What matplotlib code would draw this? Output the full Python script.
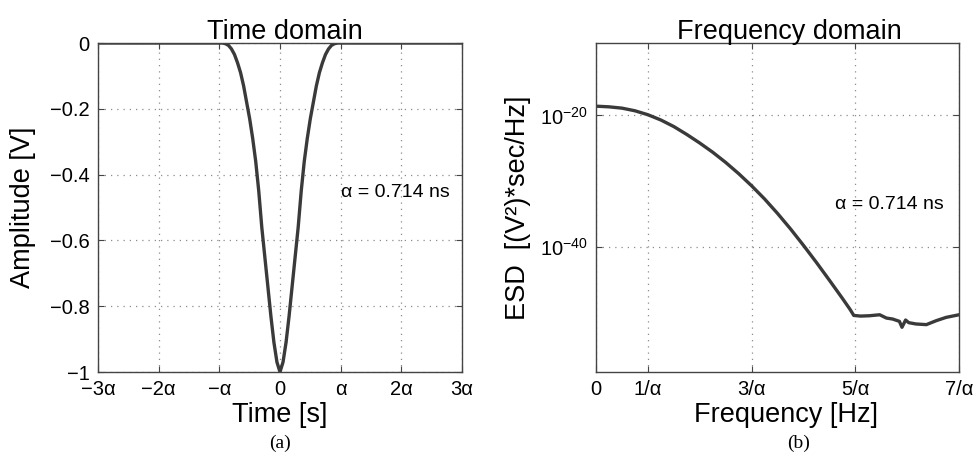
import matplotlib
matplotlib.use('Agg')
import matplotlib.pyplot as plt
import numpy as np

plt.rcParams['font.family'] = ['Liberation Sans', 'DejaVu Sans']
plt.rcParams['mathtext.fontset'] = 'custom'
plt.rcParams['mathtext.rm'] = 'Liberation Sans'
plt.rcParams['mathtext.it'] = 'Liberation Sans:italic'

## time domain pulse, time in units of alpha
t_alpha = [-3.0, -0.95, -0.9, -0.85, -0.8, -0.75, -0.7, -0.65, -0.6, -0.55, -0.5,
           -0.45, -0.4, -0.35, -0.3, -0.25, -0.2, -0.15, -0.1, -0.05, 0.0,
           0.05, 0.1, 0.15, 0.2, 0.25, 0.3, 0.35, 0.4, 0.45, 0.5,
           0.55, 0.6, 0.65, 0.7, 0.75, 0.8, 0.85, 0.9, 0.95, 3.0]
amp = [0.0, 0.0, -0.002, -0.007, -0.018, -0.035, -0.06, -0.09, -0.13, -0.18, -0.23,
       -0.29, -0.36, -0.45, -0.56, -0.65, -0.74, -0.83, -0.91, -0.97, -1.0,
       -0.97, -0.91, -0.83, -0.74, -0.65, -0.56, -0.45, -0.36, -0.29, -0.23,
       -0.18, -0.13, -0.09, -0.06, -0.035, -0.018, -0.007, -0.002, 0.0, 0.0]

## energy spectral density, frequency in units of 1/alpha, log10 of ESD
f_alpha = [0, 0.25, 0.5, 0.75, 1.0, 1.25, 1.5, 1.75, 2.0, 2.25, 2.5, 2.75, 3.0,
           3.25, 3.5, 3.75, 4.0, 4.25, 4.5, 4.75, 4.9, 4.97, 5.1, 5.27, 5.47,
           5.6, 5.72, 5.85, 5.9, 5.97, 6.03, 6.17, 6.37, 6.56, 6.75, 7.0]
esd_exp = [-18.6, -18.7, -18.9, -19.3, -19.9, -20.7, -21.7, -22.9, -24.2, -25.6,
           -27.15, -28.85, -30.7, -32.7, -34.9, -37.25, -39.75, -42.35, -45.05, -47.8,
           -49.5, -50.4, -50.5, -50.45, -50.3, -50.8, -50.95, -51.3, -52.2, -51.1,
           -51.5, -51.7, -51.8, -51.2, -50.7, -50.3]

t_ticks = [-3, -2, -1, 0, 1, 2, 3]
t_labels = ['\u22123\u03b1', '\u22122\u03b1', '\u2212\u03b1', '0', '\u03b1', '2\u03b1', '3\u03b1']
amp_ticks = [-1, -0.8, -0.6, -0.4, -0.2, 0]
amp_labels = ['\u22121', '\u22120.8', '\u22120.6', '\u22120.4', '\u22120.2', '0']
f_ticks = [0, 1, 3, 5, 7]
f_labels = ['0', '1/\u03b1', '3/\u03b1', '5/\u03b1', '7/\u03b1']

line_col = '#3a3a3a'
grid_col = '#8c8c8c'

fig = plt.figure(figsize=(9.8, 4.69), dpi=100)
ax1 = fig.add_axes([0.1, 0.2068, 0.3714, 0.7015])
ax2 = fig.add_axes([0.6082, 0.2068, 0.3704, 0.7015])

def style_axes(ax):
    for s in ax.spines.values():
        s.set_color('#444444')
        s.set_linewidth(1.0)
    ax.tick_params(direction='in', length=4, width=0.8, color='#444444',
                   top=True, right=True, labelsize=14.5, pad=6)
    ax.grid(True, linestyle=(0, (1, 4)), color=grid_col, linewidth=0.9)

## time domain
ax1.plot(t_alpha, amp, color=line_col, linewidth=2.4, solid_joinstyle='round')
ax1.set_xlim(-3, 3)
ax1.set_ylim(-1, 0)
ax1.set_xticks(t_ticks)
ax1.set_xticklabels(t_labels)
ax1.set_yticks(amp_ticks)
ax1.set_yticklabels(amp_labels)
style_axes(ax1)
ax1.set_title('Time domain', fontsize=19.5, x=0.514, pad=3)
ax1.set_xlabel('Time [s]', fontsize=19.5)
ax1.set_ylabel('Amplitude [V]', fontsize=19.5)
ax1.xaxis.set_label_coords(0.5, -0.09)
ax1.yaxis.set_label_coords(-0.17, 0.5)
ax1.text(1.0, -0.455, '\u03b1 = 0.714 ns', fontsize=14, ha='left', va='center')

## frequency domain
esd = 10.0 ** np.array(esd_exp)
ax2.semilogy(f_alpha, esd, color=line_col, linewidth=2.4, solid_joinstyle='round')
ax2.set_xlim(0, 7)
ax2.set_ylim(1e-59, 1e-9)
ax2.set_xticks(f_ticks)
ax2.set_xticklabels(f_labels)
ax2.set_yticks([1e-40, 1e-20])
ax2.set_yticklabels([r'$10^{-40}$', r'$10^{-20}$'])
ax2.yaxis.set_minor_locator(matplotlib.ticker.NullLocator())
style_axes(ax2)
ax2.set_title('Frequency domain', fontsize=19.5, x=0.534, pad=3)
ax2.set_xlabel('Frequency [Hz]', fontsize=19.5)
ax2.set_ylabel('ESD  [(V\u00b2)*sec/Hz]', fontsize=19.5)
ax2.xaxis.set_label_coords(0.523, -0.09)
ax2.yaxis.set_label_coords(-0.18, 0.5)
ax2.text(4.6, 10.0 ** -33.5, '\u03b1 = 0.714 ns', fontsize=14, ha='left', va='center')

## captions
fig.text(0.2857, 0.055, '(a)', fontsize=14, family='Liberation Serif', ha='center', va='center')
fig.text(0.815, 0.055, '(b)', fontsize=14, family='Liberation Serif', ha='center', va='center')

fig.savefig('out.png', dpi=100)
